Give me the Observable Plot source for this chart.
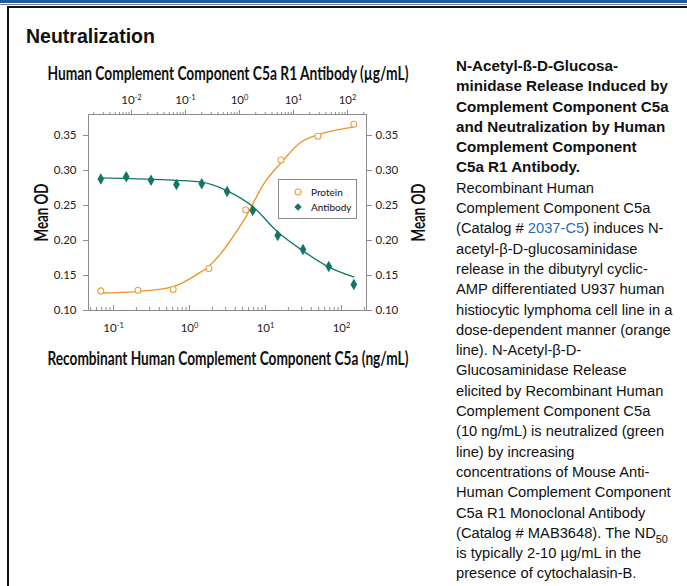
<!DOCTYPE html>
<html>
<head>
<meta charset="utf-8">
<script src="https://cdn.jsdelivr.net/npm/d3@7"></script>
<script src="https://cdn.jsdelivr.net/npm/@observablehq/plot@0.6"></script>
<style>
  html, body { margin: 0; padding: 0; background: #fff; }
  #page { position: relative; width: 687px; height: 586px; overflow: hidden; background: #fff; font-family: "Liberation Sans", Arial, sans-serif; }
  .abs { position: absolute; }
  .cond { font-family: Lato, "Noto Sans", sans-serif; }
  .fit { position: absolute; white-space: nowrap; font-weight: bold; color: #111; transform-origin: center center; }
  #desc { left: 456px; top: 56px; width: 231px; font-size: 14.7px; line-height: 20.3px; color: #111; white-space: nowrap; }
  #desc b { font-size: 15.2px; }
  #desc a { color: #2a6ebb; text-decoration: none; }
  #desc sub { font-size: 11px; line-height: 0; vertical-align: -5px; }
</style>
</head>
<body>
<div id="page">
  <div class="abs" style="left:0;top:0;width:687px;height:3px;background:#1f5c9e;"></div>
  <div class="abs" style="left:0;top:4px;width:687px;height:1px;background:#777;"></div>
  <div class="abs" style="left:7px;top:6px;width:680px;height:2px;background:#111;"></div>
  <div class="abs" style="left:7px;top:6px;width:2px;height:580px;background:#111;"></div>
  <div class="abs" style="left:26px;top:25px;font-weight:bold;font-size:19.5px;color:#111;">Neutralization</div>

  <div id="chart" class="abs" style="left:0;top:60px;width:440px;height:320px;"></div>

  <div id="titleTop" class="fit cond" data-cx="227.5" data-cy="72" data-w="361" style="font-size:19px;">Human Complement Component C5a R1 Antibody (µg/mL)</div>
  <div id="titleBottom" class="fit cond" data-cx="227.5" data-cy="357" data-w="361" style="font-size:19px;">Recombinant Human Complement Component C5a (ng/mL)</div>
  <div class="fit cond" data-cx="40" data-cy="212" data-w="58" data-rot="1" style="font-size:19px;">Mean OD</div>
  <div class="fit cond" data-cx="417" data-cy="212" data-w="58" data-rot="1" style="font-size:19px;">Mean OD</div>

  <div id="legend" class="abs cond" style="left:278px;top:179px;width:77px;height:38px;border:1px solid #8c8c8c;background:#fff;font-size:10px;color:#111;"></div>

  <div id="desc" class="abs">
    <b>N-Acetyl-ß-D-Glucosa-<br>minidase Release Induced by<br>Complement Component C5a<br>and Neutralization by Human<br>Complement Component<br>C5a R1 Antibody.</b><br>
    Recombinant Human<br>Complement Component C5a<br>(Catalog # <a>2037-C5</a>) induces N-<br>acetyl-β-D-glucosaminidase<br>release in the dibutyryl cyclic-<br>AMP differentiated U937 human<br>histiocytic lymphoma cell line in a<br>dose-dependent manner (orange<br>line). N-Acetyl-β-D-<br>Glucosaminidase Release<br>elicited by Recombinant Human<br>Complement Component C5a<br>(10 ng/mL) is neutralized (green<br>line) by increasing<br>concentrations of Mouse Anti-<br>Human Complement Component<br>C5a R1 Monoclonal Antibody<br>(Catalog # MAB3648). The ND<sub>50</sub><br><span style="display:inline-block;margin-top:0px;">is typically 2-10 µg/mL in the</span><br>presence of cytochalasin-B.
  </div>
</div>

<script>
// ---- Data ----
// Protein: Recombinant Human C5a, ng/mL (bottom axis)
const proteinConc = [0.068, 0.21, 0.61, 1.8, 5.5, 16, 49, 145];
const proteinOD   = [0.128, 0.129, 0.130, 0.160, 0.244, 0.315, 0.349, 0.366];
// Fitted protein curve
const proteinCurveConc = [0.0675, 0.205, 0.61, 1.27, 1.83, 2.56, 3.46, 5.46, 9.5, 16.3, 28.9, 49.3, 87.7, 145];
const proteinCurveOD   = [0.125, 0.127, 0.134, 0.152, 0.164, 0.181, 0.200, 0.233, 0.281, 0.312, 0.340, 0.351, 0.358, 0.362];
// Antibody: Human C5a R1 antibody, µg/mL (top axis)
const antibodyConc = [0.0027, 0.008, 0.023, 0.068, 0.2, 0.59, 1.76, 5.1, 15, 45, 131];
const antibodyOD   = [0.288, 0.291, 0.286, 0.280, 0.281, 0.270, 0.243, 0.207, 0.187, 0.163, 0.137];
// Fitted antibody curve
const antibodyCurveConc = [0.0027, 0.023, 0.068, 0.2, 0.59, 1.76, 5.12, 15.1, 45.1, 131];
const antibodyCurveOD   = [0.2896, 0.2876, 0.2860, 0.2833, 0.2710, 0.2486, 0.2120, 0.1850, 0.1620, 0.1480];

const yTicks = [0.10, 0.15, 0.20, 0.25, 0.30, 0.35];
const bottomMajor = [0.1, 1, 10, 100];
const topMajor = [0.01, 0.1, 1, 10, 100];
const legendLabels = ["Protein", "Antibody"];

const orange = "#e8962a";
const orangeDot = "#eba43f";
const teal = "#12756a";
const font = "Lato, 'Noto Sans', sans-serif";

const protein = proteinConc.map((c, i) => ({c, od: proteinOD[i]}));
const proteinCurve = proteinCurveConc.map((c, i) => ({c, od: proteinCurveOD[i]}));
const antibody = antibodyConc.map((c, i) => ({c, od: antibodyOD[i]}));
const antibodyCurve = antibodyCurveConc.map((c, i) => ({c, od: antibodyCurveOD[i]}));

function minorTicks(lo, hi) {
  const out = [];
  for (let e = -4; e <= 4; e++) for (let m = 2; m <= 9; m++) {
    const v = m * Math.pow(10, e);
    if (v > lo && v < hi) out.push(v);
  }
  return out;
}
const supFmt = d => "10^" + Math.round(Math.log10(d));

const W = 440, H = 320, ML = 88, MR = 74, MT = 54, MB = 70;
const bottomDomain = [Math.pow(10, -1.329), Math.pow(10, 2.329)];
const topDomain = [Math.pow(10, -2.796), Math.pow(10, 2.352)];
const yDomain = [0.10, 0.38];
const style = {fontFamily: font, fontSize: "11.5px", background: "transparent", overflow: "visible", color: "#222"};

const plotBottom = Plot.plot({
  width: W, height: H, marginLeft: ML, marginRight: MR, marginTop: MT, marginBottom: MB,
  style,
  x: {type: "log", domain: bottomDomain},
  y: {domain: yDomain},
  marks: [
    Plot.frame({stroke: "#8c8c8c"}),
    Plot.axisY({anchor: "left", ticks: yTicks, tickSize: 5, tickPadding: 7, tickFormat: ".2f", label: null, stroke: "#8c8c8c"}),
    Plot.axisY({anchor: "right", ticks: yTicks, tickSize: 5, tickPadding: 4, tickFormat: ".2f", label: null, stroke: "#8c8c8c"}),
    Plot.axisX({anchor: "bottom", ticks: minorTicks(...bottomDomain), tickSize: -3, tickFormat: () => "", label: null, stroke: "#8c8c8c"}),
    Plot.axisX({anchor: "bottom", ticks: bottomMajor, tickSize: -5, tickFormat: () => "", label: null, stroke: "#8c8c8c"}),
    Plot.axisX({anchor: "bottom", ticks: bottomMajor, tickSize: 0, tickPadding: 13, tickFormat: supFmt, label: null}),
    Plot.line(proteinCurve, {x: "c", y: "od", stroke: orange, strokeWidth: 1.3, curve: "monotone-x"}),
    Plot.dot(protein, {x: "c", y: "od", r: 3, stroke: orangeDot, fill: "white", strokeWidth: 1.1})
  ]
});

const plotTop = Plot.plot({
  width: W, height: H, marginLeft: ML, marginRight: MR, marginTop: MT, marginBottom: MB,
  style,
  x: {type: "log", domain: topDomain},
  y: {domain: yDomain, axis: null},
  marks: [
    Plot.axisX({anchor: "top", ticks: minorTicks(...topDomain), tickSize: 3, tickFormat: () => "", label: null, stroke: "#8c8c8c"}),
    Plot.axisX({anchor: "top", ticks: topMajor, tickSize: 5, tickPadding: 6, tickFormat: supFmt, label: null, stroke: "#8c8c8c"}),
    Plot.line(antibodyCurve, {x: "c", y: "od", stroke: teal, strokeWidth: 1.3, curve: "monotone-x"}),
    Plot.dot(antibody, {x: "c", y: "od", r: 3.5, symbol: "diamond", fill: teal, stroke: "none"})
  ]
});

function fixSup(svg) {
  const NS = "http://www.w3.org/2000/svg";
  svg.querySelectorAll("text").forEach(t => {
    const m = (t.textContent || "").match(/^10\^(-?\d+)$/);
    if (!m) return;
    while (t.firstChild) t.removeChild(t.firstChild);
    const a = document.createElementNS(NS, "tspan");
    a.textContent = "10";
    const b = document.createElementNS(NS, "tspan");
    b.textContent = m[1];
    b.setAttribute("font-size", "7.5px");
    b.setAttribute("dy", "-0.45em");
    t.appendChild(a); t.appendChild(b);
  });
}
[plotBottom, plotTop].forEach(p => {
  fixSup(p);
  p.style.position = "absolute"; p.style.left = "0px"; p.style.top = "0px";
  document.getElementById("chart").appendChild(p);
});

// Fit condensed titles to the reference widths
document.querySelectorAll(".fit").forEach(el => {
  const w = el.getBoundingClientRect().width;
  const h = el.getBoundingClientRect().height;
  const s = (+el.dataset.w) / w;
  el.style.left = (+el.dataset.cx - w / 2) + "px";
  el.style.top = (+el.dataset.cy - h / 2) + "px";
  el.style.transform = (el.dataset.rot ? "rotate(-90deg) " : "") + "scaleX(" + s + ")";
});

// Legend
const leg = document.getElementById("legend");
const legendSym = [
  '<svg width="10" height="10"><circle cx="5" cy="5" r="3" fill="white" stroke="' + orangeDot + '" stroke-width="1.1"/></svg>',
  '<svg width="10" height="10"><path d="M5,1.3L8.7,5L5,8.7L1.3,5Z" fill="' + teal + '"/></svg>'
];
legendLabels.forEach((lab, i) => {
  const row = document.createElement("div");
  row.style.cssText = "position:absolute;left:14px;top:" + (6 + i * 14.5) + "px;height:12px;display:flex;align-items:center;";
  row.innerHTML = legendSym[i] + '<span style="margin-left:8px;">' + lab + '</span>';
  leg.appendChild(row);
});
</script>
</body>
</html>
